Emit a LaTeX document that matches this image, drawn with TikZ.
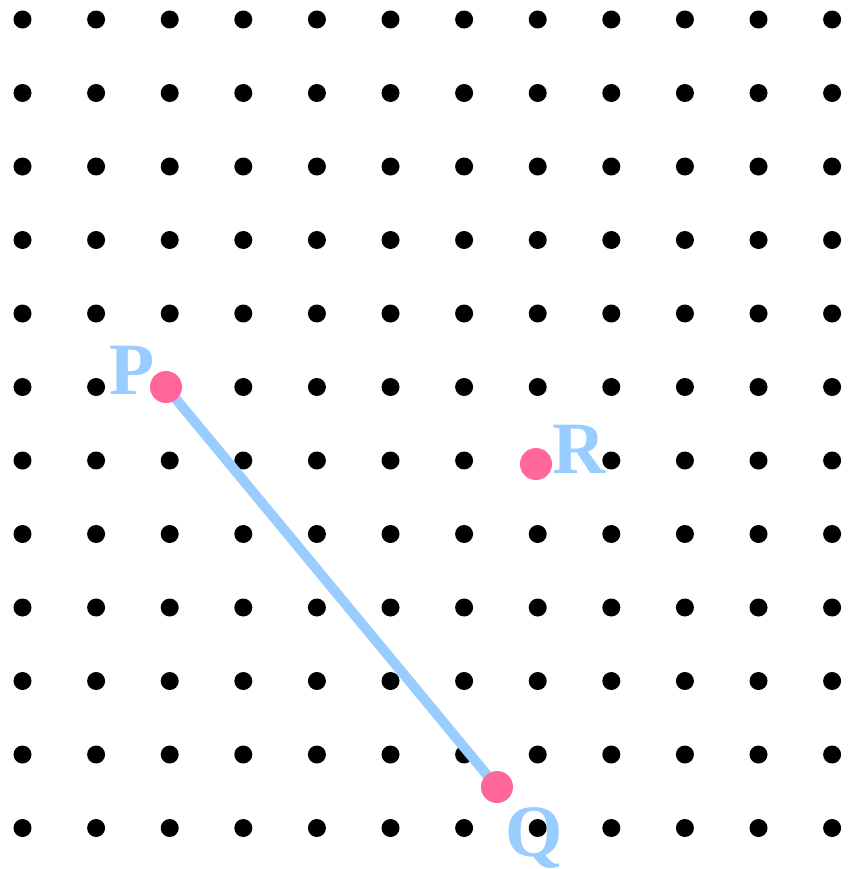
\documentclass[tikz,border=0pt]{standalone}
\usepackage{fontspec}
\setmainfont{Liberation Serif}
\definecolor{segblue}{RGB}{153,204,255}
\definecolor{ptpink}{RGB}{255,102,153}

\begin{document}
\begin{tikzpicture}[x=0.03cm,y=-0.03cm,
    every node/.style={inner sep=0pt}]
  \tikzstyle{griddot}=[circle,fill=black,minimum size=0.54cm]
  \tikzstyle{ptdot}=[circle,fill=ptpink,minimum size=0.96cm]
  \tikzstyle{ptname}=[text=segblue,anchor=base,font=\fontsize{63}{63}\selectfont\bfseries]
  \useasboundingbox (0,0) rectangle (854,869);
  % Grid
  \foreach \i in {0,...,11}
    \foreach \j in {0,...,11}
      \node[griddot] (g-\i-\j) at ({22.5+73.6*\i},{19.5+73.5*\j}) {};
  % Points
  \coordinate (p) at (166,387);
  \coordinate (q) at (497,787);
  \coordinate (r) at (536,464);
  % Segment
  \draw[segblue,line width=0.3cm] (p) -- (q);
  \node[ptdot] (P) at (p) {};
  \node[ptdot] (Q) at (q) {};
  \node[ptdot] (R) at (r) {};
  % Labels
  \node[ptname] (Plabel) at (132,394) {P};
  \node[ptname] (Rlabel) at (579,473) {R};
  \node[ptname] (Qlabel) at (534,856) {Q};
\end{tikzpicture}
\end{document}
